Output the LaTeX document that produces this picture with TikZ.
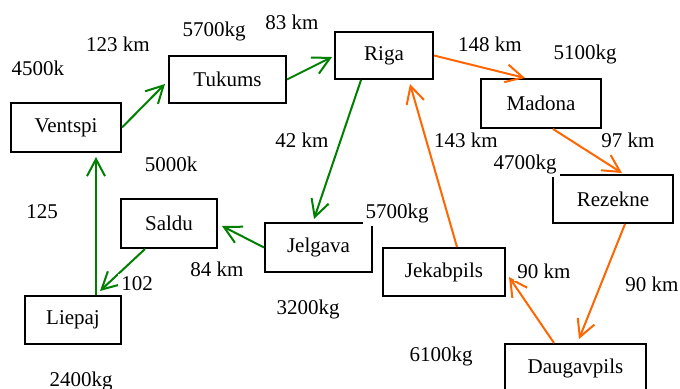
\documentclass[tikz,border=0pt]{standalone}
\usepackage{fontspec}
\setmainfont{Liberation Serif}
\usetikzlibrary{arrows.meta}
\definecolor{lvgreen}{RGB}{0,128,0}
\definecolor{lvorange}{RGB}{255,102,0}
\begin{document}
\begin{tikzpicture}[x=0.5pt,y=-0.5pt,
  city/.style={draw=black, line width=1pt, inner sep=0pt, font=\fontsize{10.5}{12}\selectfont},
  lbl/.style={fill=white, inner sep=1.5pt, font=\fontsize{10.5}{12}\selectfont},
  link/.style={line width=1pt, -{Straight Barb[length=8.5pt,width=9pt]}},
  glink/.style={link, draw=lvgreen},
  olink/.style={link, draw=lvorange}]
\useasboundingbox[fill=white] (0,0) rectangle (680,389);
\begin{scope}
\clip (0,0) rectangle (680,389);
% cities
\node[city, minimum width=55pt, minimum height=24.5pt] (ventspi) at (66,127.5) {Ventspi};
\node[city, minimum width=58.5pt, minimum height=23.5pt] (tukums) at (227.5,79.5) {Tukums};
\node[city, minimum width=49pt, minimum height=23.5pt] (riga) at (384,55.5) {Riga};
\node[city, minimum width=60pt, minimum height=24.5pt] (madona) at (541,103.5) {Madona};
\node[city, minimum width=60pt, minimum height=24pt] (rezekne) at (613,199) {Rezekne};
\node[city, minimum width=61pt, minimum height=24pt] (jekabpils) at (444,272) {Jekabpils};
\node[city, minimum width=70.5pt, minimum height=24pt] (daugavpils) at (575.5,368) {Daugavpils};
\node[city, minimum width=53.5pt, minimum height=24.5pt] (jelgava) at (318.5,247.5) {Jelgava};
\node[city, minimum width=48pt, minimum height=24.5pt] (saldu) at (169,223.5) {Saldu};
\node[city, minimum width=48pt, minimum height=24pt] (liepaj) at (73,320) {Liepaj};
% green connectors
\draw[glink] (ventspi.east) -- ([shift={(-3,4.5)}]tukums.west);
\draw[glink] (tukums.east) -- ([shift={(-2,1.5)}]riga.west);
\draw[glink] ([shift={(-23,0)}]riga.south) -- ([shift={(-4.5,-3)}]jelgava.north);
\draw[glink] (jelgava.west) -- ([shift={(4,2.5)}]saldu.east);
\draw[glink] ([shift={(-24,0)}]saldu.south) -- ([shift={(27,-4)}]liepaj.north);
\draw[glink] ([shift={(23,0)}]liepaj.north) -- ([shift={(30,4)}]ventspi.south);
% orange connectors
\draw[olink] (riga.east) -- ([shift={(-16,0)}]madona.north);
\draw[olink] ([shift={(12,0)}]madona.south) -- ([shift={(9,-1)}]rezekne.north);
\draw[olink] ([shift={(12,0)}]rezekne.south) -- ([shift={(3.5,-4)}]daugavpils.north);
\draw[olink] ([shift={(-21.5,0)}]daugavpils.north) -- ([shift={(3,5)}]jekabpils.east);
\draw[olink] ([shift={(13,0)}]jekabpils.north) -- ([shift={(26,4)}]riga.south);
% labels
\node[lbl] (l4500) at (38,68) {4500k};
\node[lbl] (l123) at (118,44) {123 km};
\node[lbl] (l5700a) at (214,31) {5700kg};
\node[lbl] (l83) at (292,22) {83 km};
\node[lbl] (l5000) at (171,164) {5000k};
\node[lbl] (l42) at (302,140) {42 km};
\node[lbl] (l148) at (490,44) {148 km};
\node[lbl] (l5100) at (585,54) {5100kg};
\node[lbl] (l143) at (466,140) {143 km};
\node[lbl] (l97) at (628,140) {97 km};
\node[lbl] (l4700) at (525,164) {4700kg};
\node[lbl] (l125) at (42,212) {125};
\node[lbl] (l84) at (217,269) {84 km};
\node[lbl] (l102) at (137,284) {102};
\node[lbl] (l3200) at (308,309) {3200kg};
\node[lbl] (l2400) at (81,381) {2400kg};
\node[lbl] (l5700b) at (397,213) {5700kg};
\node[lbl] (l90a) at (544,271) {90 km};
\node[lbl] (l90b) at (652,284) {90 km};
\node[lbl] (l6100) at (441,356) {6100kg};
\end{scope}
\end{tikzpicture}
\end{document}
